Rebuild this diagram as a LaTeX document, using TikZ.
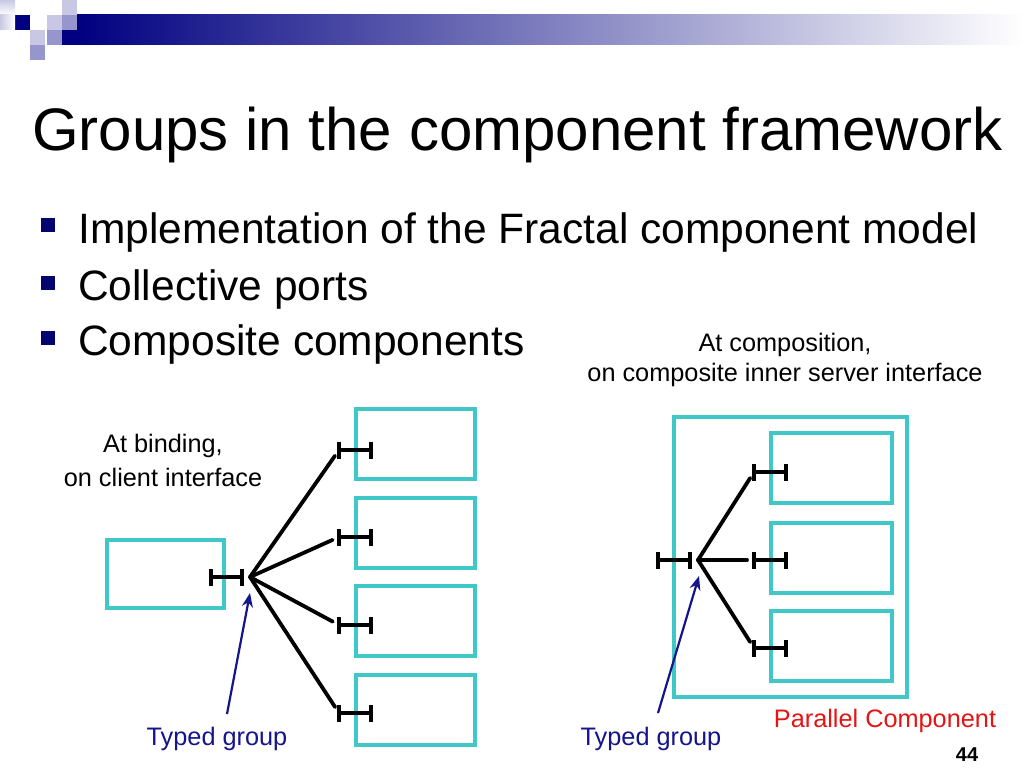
\documentclass[tikz,border=0pt]{standalone}
\usepackage{fontspec}
\setmainfont{Liberation Sans}
\usetikzlibrary{arrows.meta}
\definecolor{teal1}{RGB}{64,200,200}
\definecolor{navy1}{RGB}{0,0,128}
\definecolor{bnavy}{RGB}{4,4,110}
\definecolor{lav1}{RGB}{200,200,228}
\definecolor{lav2}{RGB}{150,150,205}
\definecolor{tblue}{RGB}{20,20,140}
\definecolor{pred}{RGB}{230,20,20}
\tikzset{
  compbox/.style={draw=teal1, line width=4pt, minimum width=#1, inner sep=0pt, outer sep=0pt},
  ifline/.style={line width=4pt},
  fanline/.style={line width=3.8pt, line cap=round, shorten >=7pt},
  pointer/.style={draw=tblue, line width=2.2pt, -{Stealth[length=14pt,width=11pt]}},
  small/.style={font=\fontsize{25.3}{30}\selectfont, align=center},
  bulletsq/.style={fill=bnavy, minimum size=14pt, inner sep=0pt},
  bullettext/.style={anchor=base west, font=\fontsize{42.5}{50}\selectfont, inner sep=0pt},
}
\newcommand{\ifsym}[2]{%
  \draw[ifline] (#1) -- (#2);
  \draw[ifline] ([yshift=-8.5pt]#1) -- ([yshift=8.5pt]#1);
  \draw[ifline] ([yshift=-8.5pt]#2) -- ([yshift=8.5pt]#2);
}
\begin{document}
\begin{tikzpicture}[x=1pt,y=-1pt]
\useasboundingbox (0,0) rectangle (1024,768);
\fill[white] (0,0) rectangle (1024,768);
% decoration
\shade[left color=navy1, right color=white] (77,15) rectangle (1024,45);
\fill[navy1] (62,30) rectangle (77,45);
\fill[navy1] (15,15) rectangle (30,30);
\shade[top color=lav1, bottom color=white] (0,0) rectangle (15,15);
\shade[left color=lav1, right color=white] (0,15) rectangle (15,30);
\fill[lav1] (30,30) rectangle (45,45);
\fill[lav2] (30,45) rectangle (45,60);
\fill[lav1] (47,15) rectangle (62,30);
\fill[lav2] (47,30) rectangle (62,45);
\fill[lav1] (62,0) rectangle (77,15);
\fill[lav2] (62,15) rectangle (77,30);
% title
\node[anchor=base west, inner sep=0pt, font=\fontsize{60}{70}\selectfont] (title) at (32,150) {Groups in the component framework};
% bullets
\node[bulletsq] (s1) at (48,225) {};
\node[bulletsq] (s2) at (48,283) {};
\node[bulletsq] (s3) at (48,338) {};
\node[bullettext] (t1) at (78,243) {Implementation of the Fractal component model};
\node[bullettext] (t2) at (78,300) {Collective ports};
\node[bullettext] (t3) at (78,355) {Composite components};
% labels
\node[small, anchor=base] (l1) at (785,351) {At composition,};
\node[small, anchor=base] (l2) at (785,381) {on composite inner server interface};
\node[small, anchor=base] (l3) at (163,452) {At binding,};
\node[small, anchor=base] (l4) at (163,486) {on client interface};

% ---------- left diagram ----------
\node[compbox=117pt, minimum height=68pt] (cl) at (165.5,573.5) {};
\node[compbox=119pt, minimum height=70pt] (r1) at (415.5,444) {};
\node[compbox=119pt, minimum height=70pt] (r2) at (415.5,532.5) {};
\node[compbox=119pt, minimum height=70pt] (r3) at (415.5,621) {};
\node[compbox=119pt, minimum height=70pt] (r4) at (415.5,709.5) {};
\coordinate (ca) at (211,577);
\coordinate (cb) at (242,577);
\coordinate (fan) at (250,577);
\ifsym{ca}{cb}
\foreach \i/\y in {1/450,2/537,3/625,4/713}{
  \coordinate (a\i) at (339,\y);
  \coordinate (b\i) at (371,\y);
  \ifsym{a\i}{b\i}
  \draw[fanline] (fan) -- (a\i);
}
\coordinate (tail1) at (227,714);
\coordinate (tip1) at (250,593);
\draw[pointer] (tail1) -- (tip1);
\node[small, anchor=base, text=tblue] (tg1) at (217,745) {Typed group};

% ---------- right diagram ----------
\node[compbox=233pt, minimum height=280pt] (big) at (790,556.5) {};
\node[compbox=121pt, minimum height=70pt] (p1) at (831,468) {};
\node[compbox=121pt, minimum height=70pt] (p2) at (831,557.5) {};
\node[compbox=121pt, minimum height=70pt] (p3) at (831,645.5) {};
\coordinate (ea) at (658,560);
\coordinate (eb) at (690,560);
\coordinate (fan2) at (698,560);
\ifsym{ea}{eb}
\foreach \i/\y in {1/472,2/560,3/648}{
  \coordinate (c\i) at (754,\y);
  \coordinate (d\i) at (786,\y);
  \ifsym{c\i}{d\i}
  \draw[fanline] (fan2) -- (c\i);
}
\coordinate (tail2) at (658,713);
\coordinate (tip2) at (699,576);
\draw[pointer] (tail2) -- (tip2);
\node[small, anchor=base, text=tblue] (tg2) at (651,745) {Typed group};
\node[small, anchor=base, text=pred] (pc) at (885,727) {Parallel Component};
\node[anchor=base, inner sep=0pt, font=\fontsize{20}{24}\selectfont\bfseries] (num) at (967,761) {44};
\end{tikzpicture}
\end{document}
